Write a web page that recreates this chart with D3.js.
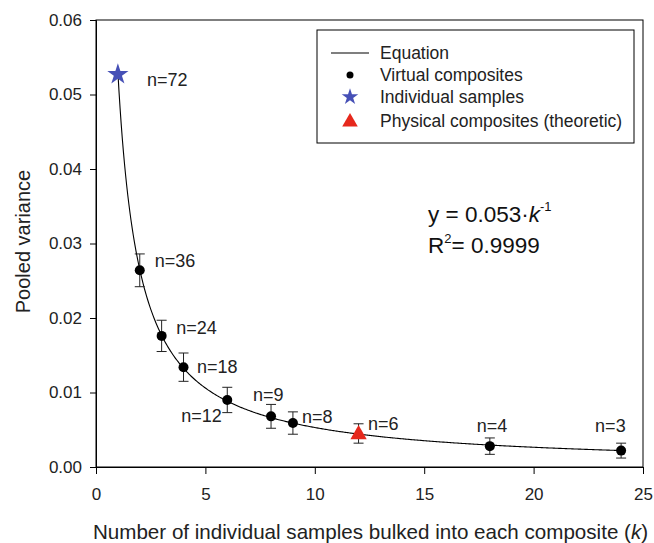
<!DOCTYPE html>
<html>
<head>
<meta charset="utf-8">
<script src="https://cdn.jsdelivr.net/npm/d3@7"></script>
<style>
  body { margin: 0; background: #fff; }
  svg { font-family: "Liberation Sans", Arial, sans-serif; }
  .axis text { font-size: 17px; fill: #222; }
  .axis path, .axis line { stroke: #000; }
</style>
</head>
<body>
<svg id="chart"></svg>
<script>
// virtual composites: k, pooled variance, error half-width, label
const virtualK = [2, 3, 4, 6, 8, 9, 18, 24];
const virtualVar = [0.0264, 0.0176, 0.0134, 0.0090, 0.0068, 0.0059, 0.0028, 0.0022];
const virtualErr = [0.0022, 0.0021, 0.0019, 0.0017, 0.0016, 0.0015, 0.0011, 0.0010];
const virtualLabels = ["n=36", "n=24", "n=18", "n=12", "n=9", "n=8", "n=4", "n=3"];

const individualK = [1];
const individualVar = [0.0527];
const individualLabels = ["n=72"];

const physicalK = [12];
const physicalVar = [0.0045];
const physicalErr = [0.0013];
const physicalLabels = ["n=6"];

const eqCoef = 0.053;
const xTicks = [0, 5, 10, 15, 20, 25];
const yTicks = [0, 0.01, 0.02, 0.03, 0.04, 0.05, 0.06];
const legendItems = ["Equation", "Virtual composites", "Individual samples", "Physical composites (theoretic)"];

const W = 654, H = 543;
const margin = {top: 20, right: 11, bottom: 76, left: 96};
const width = W - margin.left - margin.right;
const height = H - margin.top - margin.bottom;

const svg = d3.select('#chart').attr('width', W).attr('height', H);
const chart = svg.append('g').attr('transform', `translate(${margin.left},${margin.top})`);

const xScale = d3.scaleLinear().domain([0, 25]).range([0, width]);
const yScale = d3.scaleLinear().domain([0, 0.06]).range([height, 0]);

// frame
chart.append('rect')
    .attr('width', width).attr('height', height)
    .attr('fill', 'none').attr('stroke', '#000').attr('stroke-width', 1);

chart.append('g')
    .attr('class', 'axis')
    .attr('transform', `translate(0,${height})`)
    .call(d3.axisBottom(xScale).tickValues(xTicks).tickSize(7).tickPadding(14).tickFormat(d3.format('d')));

chart.append('g')
    .attr('class', 'axis')
    .call(d3.axisLeft(yScale).tickValues(yTicks).tickSize(6).tickPadding(8).tickFormat(d3.format('.2f')));

// axis titles
chart.append('text')
    .attr('x', width / 2 + 1).attr('y', height + 72)
    .attr('text-anchor', 'middle').attr('font-size', 20.6).attr('fill', '#222')
    .html('Number of individual samples bulked into each composite (<tspan font-style="italic">k</tspan>)');

chart.append('text')
    .attr('transform', `translate(${-66},${height / 2 - 2}) rotate(-90)`)
    .attr('text-anchor', 'middle').attr('font-size', 20).attr('fill', '#222')
    .text('Pooled variance');

// fitted equation
const curveK = d3.range(1, 24.001, 0.05);
chart.append('path')
    .datum(curveK)
    .attr('fill', 'none').attr('stroke', '#000').attr('stroke-width', 1.1)
    .attr('d', d3.line().x(k => xScale(k)).y(k => yScale(eqCoef / k)));

// error bars
function errorBars(ks, vals, errs) {
  ks.forEach((k, i) => {
    const x = xScale(k), y0 = yScale(vals[i] - errs[i]), y1 = yScale(vals[i] + errs[i]);
    const g = chart.append('g').attr('stroke', '#222').attr('stroke-width', 1);
    g.append('line').attr('x1', x).attr('x2', x).attr('y1', y0).attr('y2', y1);
    g.append('line').attr('x1', x - 5).attr('x2', x + 5).attr('y1', y0).attr('y2', y0);
    g.append('line').attr('x1', x - 5).attr('x2', x + 5).attr('y1', y1).attr('y2', y1);
  });
}
errorBars(virtualK, virtualVar, virtualErr);
errorBars(physicalK, physicalVar, physicalErr);

// points
chart.selectAll('.vpoint')
    .data(virtualK)
    .join('circle')
    .attr('class', 'vpoint')
    .attr('cx', d => xScale(d))
    .attr('cy', (d, i) => yScale(virtualVar[i]))
    .attr('r', 5).attr('fill', '#000');

const starSym = d3.symbol().type(d3.symbolStar).size(140);
const triSym = d3.symbol().type(d3.symbolTriangle).size(115);

chart.selectAll('.ipoint')
    .data(individualK)
    .join('path')
    .attr('class', 'ipoint')
    .attr('transform', (d, i) => `translate(${xScale(d)},${yScale(individualVar[i])})`)
    .attr('d', starSym).attr('fill', '#4650b6');

chart.selectAll('.ppoint')
    .data(physicalK)
    .join('path')
    .attr('class', 'ppoint')
    .attr('transform', (d, i) => `translate(${xScale(d)},${yScale(physicalVar[i]) + 1})`)
    .attr('d', triSym).attr('fill', '#e6281c');

// n labels (offsets in pixels from each point)
const vOffsets = [[15, -3], [14.5, -2], [13.5, 6], [-46, 22], [-18, -15], [9, 0], [-13, -14], [-26, -19]];
chart.selectAll('.vlabel')
    .data(virtualK)
    .join('text')
    .attr('class', 'vlabel')
    .attr('x', (d, i) => xScale(d) + vOffsets[i][0])
    .attr('y', (d, i) => yScale(virtualVar[i]) + vOffsets[i][1])
    .attr('font-size', 18).attr('fill', '#222')
    .text((d, i) => virtualLabels[i]);

chart.append('text')
    .attr('x', xScale(individualK[0]) + 29).attr('y', yScale(individualVar[0]) + 12)
    .attr('font-size', 18).attr('fill', '#222').text(individualLabels[0]);

chart.append('text')
    .attr('x', xScale(physicalK[0]) + 9.5).attr('y', yScale(physicalVar[0]) - 3.5)
    .attr('font-size', 18).attr('fill', '#222').text(physicalLabels[0]);

// equation text
const eq = chart.append('text').attr('x', 332).attr('y', 202).attr('font-size', 22.5).attr('fill', '#111');
eq.append('tspan').text('y = 0.053\u00b7');
eq.append('tspan').attr('font-style', 'italic').text('k');
eq.append('tspan').attr('font-size', 13).attr('dy', -11).text('-1');

const r2 = chart.append('text').attr('x', 332).attr('y', 233).attr('font-size', 22.5).attr('fill', '#111');
r2.append('tspan').text('R');
r2.append('tspan').attr('font-size', 13).attr('dy', -10).text('2');
r2.append('tspan').attr('dy', 10).text('= 0.9999');

// legend
const lg = svg.append('g').attr('transform', 'translate(317,30)');
lg.append('rect').attr('width', 317).attr('height', 113)
    .attr('fill', '#fff').attr('stroke', '#000').attr('stroke-width', 1);
const rowY = [23, 45, 67, 91];
lg.append('line').attr('x1', 14).attr('x2', 52).attr('y1', rowY[0]).attr('y2', rowY[0])
    .attr('stroke', '#000').attr('stroke-width', 1.1);
lg.append('circle').attr('cx', 33).attr('cy', rowY[1]).attr('r', 3.5).attr('fill', '#000');
lg.append('path').attr('transform', `translate(33,${rowY[2]})`)
    .attr('d', d3.symbol().type(d3.symbolStar).size(85)).attr('fill', '#4650b6');
lg.append('path').attr('transform', `translate(33,${rowY[3] + 1})`)
    .attr('d', d3.symbol().type(d3.symbolTriangle).size(105)).attr('fill', '#e6281c');
lg.selectAll('.ltext')
    .data(legendItems)
    .join('text')
    .attr('class', 'ltext')
    .attr('x', 63).attr('y', (d, i) => rowY[i] + 6)
    .attr('font-size', 17.5).attr('fill', '#222')
    .text(d => d);
</script>
</body>
</html>
